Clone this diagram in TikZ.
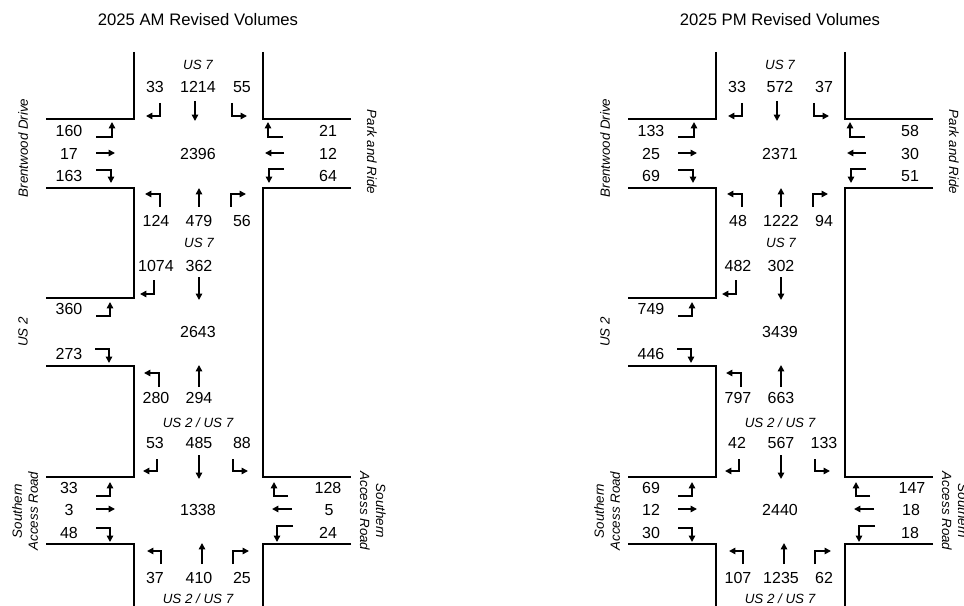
\documentclass[tikz,border=0pt]{standalone}
\usepackage{fontspec}
\setmainfont{Liberation Sans}
\usetikzlibrary{arrows.meta}
\tikzset{
  road/.style={line width=1.6pt, line join=miter},
  arr/.style={line width=1.6pt, line join=miter, -{Triangle[length=4.8pt,width=4.8pt]}},
  num/.style={inner sep=0pt, font=\fontsize{12}{14}\selectfont},
  ttl/.style={inner sep=0pt, font=\fontsize{12.5}{15}\selectfont},
  lbl/.style={inner sep=0pt, font=\fontsize{10}{12}\selectfont\itshape, align=center},
}
\newcommand\roadnet{%
  % left road edge
  \draw[road] (134,52) -- (134,119) -- (46,119);
  \draw[road] (46,188) -- (134,188) -- (134,298) -- (46,298);
  \draw[road] (46,366) -- (134,366) -- (134,477) -- (46,477);
  \draw[road] (46,544) -- (134,544) -- (134,607);
  % right road edge
  \draw[road] (263,52) -- (263,119) -- (351,119);
  \draw[road] (351,188) -- (263,188) -- (263,477) -- (351,477);
  \draw[road] (351,544) -- (263,544) -- (263,607);
  % top intersection
  \draw[arr] (160,103) -- (160,116) -- (146,116);
  \draw[arr] (195,101) -- (195,121);
  \draw[arr] (232,103) -- (232,116) -- (247,116);
  \draw[arr] (96,137) -- (112,137) -- (112,122);
  \draw[arr] (96,153) -- (115,153);
  \draw[arr] (96,170) -- (111,170) -- (111,183);
  \draw[arr] (283,137) -- (268,137) -- (268,122);
  \draw[arr] (284,153) -- (265,153);
  \draw[arr] (284,169) -- (269,169) -- (269,183);
  \draw[arr] (160,207) -- (160,194) -- (145,194);
  \draw[arr] (199,207) -- (199,188);
  \draw[arr] (231,207) -- (231,194) -- (246,194);
  % middle intersection
  \draw[arr] (154,280) -- (154,294) -- (140,294);
  \draw[arr] (199,277) -- (199,300);
  \draw[arr] (96,316) -- (110,316) -- (110,302);
  \draw[arr] (95,349) -- (109,349) -- (109,363);
  \draw[arr] (159,387) -- (159,373) -- (144,373);
  \draw[arr] (199,387) -- (199,365);
  % bottom intersection
  \draw[arr] (157,459) -- (157,471) -- (143,471);
  \draw[arr] (199,455) -- (199,479);
  \draw[arr] (233,459) -- (233,471) -- (248,471);
  \draw[arr] (96,496) -- (110,496) -- (110,482);
  \draw[arr] (96,509) -- (115,509);
  \draw[arr] (96,528) -- (110,528) -- (110,542);
  \draw[arr] (288,496) -- (274,496) -- (274,482);
  \draw[arr] (292,509) -- (272,509);
  \draw[arr] (293,526) -- (277,526) -- (277,542);
  \draw[arr] (161,564) -- (161,551) -- (147,551);
  \draw[arr] (202,564) -- (202,543);
  \draw[arr] (233,564) -- (233,551) -- (249,551);
}
\begin{document}
\begin{tikzpicture}[x=0.75pt,y=-0.75pt]
\useasboundingbox (0,0) rectangle (964,606);
% ---------------- AM ----------------
\begin{scope}
  \roadnet
  \node[ttl] (amtitle) at (198,20) {2025 AM Revised Volumes};
  \node[lbl] (amus7a) at (198,65) {US 7};
  \node[lbl] (amus7b) at (199,243) {US 7};
  \node[lbl] (amus27a) at (198,423) {US 2 / US 7};
  \node[lbl] (amus27b) at (198,599) {US 2 / US 7};
  \node[lbl, rotate=90] (ambrent) at (23,148) {Brentwood Drive};
  \node[lbl, rotate=-90] (ampark) at (372,152) {Park and Ride};
  \node[lbl, rotate=90] (amus2) at (23,332) {US 2};
  \node[lbl, rotate=90] (amsarw) at (25,511) {Southern\\Access Road};
  \node[lbl, rotate=-90] (amsare) at (373,511) {Southern\\Access Road};
  % top
  \node[num] (a1) at (155,87) {33};
  \node[num] (a2) at (198,87) {1214};
  \node[num] (a3) at (242,87) {55};
  \node[num] (a4) at (69,131) {160};
  \node[num] (a5) at (69,154) {17};
  \node[num] (a6) at (69,176) {163};
  \node[num] (a7) at (328,131) {21};
  \node[num] (a8) at (328,154) {12};
  \node[num] (a9) at (328,176) {64};
  \node[num] (a10) at (198,154) {2396};
  \node[num] (a11) at (156,221) {124};
  \node[num] (a12) at (199,221) {479};
  \node[num] (a13) at (242,221) {56};
  % middle
  \node[num] (a14) at (156,266) {1074};
  \node[num] (a15) at (199,266) {362};
  \node[num] (a16) at (69,309) {360};
  \node[num] (a17) at (69,354) {273};
  \node[num] (a18) at (198,332) {2643};
  \node[num] (a19) at (156,398) {280};
  \node[num] (a20) at (199,398) {294};
  % bottom
  \node[num] (a21) at (155,443) {53};
  \node[num] (a22) at (199,443) {485};
  \node[num] (a23) at (242,443) {88};
  \node[num] (a24) at (69,488) {33};
  \node[num] (a25) at (69,510) {3};
  \node[num] (a26) at (69,533) {48};
  \node[num] (a27) at (328,488) {128};
  \node[num] (a28) at (329,510) {5};
  \node[num] (a29) at (328,533) {24};
  \node[num] (a30) at (198,510) {1338};
  \node[num] (a31) at (155,578) {37};
  \node[num] (a32) at (199,578) {410};
  \node[num] (a33) at (242,578) {25};
\end{scope}
% ---------------- PM ----------------
\begin{scope}[shift={(582,0)}]
  \roadnet
  \node[ttl] (pmtitle) at (198,20) {2025 PM Revised Volumes};
  \node[lbl] (pmus7a) at (198,65) {US 7};
  \node[lbl] (pmus7b) at (199,243) {US 7};
  \node[lbl] (pmus27a) at (198,423) {US 2 / US 7};
  \node[lbl] (pmus27b) at (198,599) {US 2 / US 7};
  \node[lbl, rotate=90] (pmbrent) at (23,148) {Brentwood Drive};
  \node[lbl, rotate=-90] (pmpark) at (372,152) {Park and Ride};
  \node[lbl, rotate=90] (pmus2) at (23,332) {US 2};
  \node[lbl, rotate=90] (pmsarw) at (25,511) {Southern\\Access Road};
  \node[lbl, rotate=-90] (pmsare) at (373,511) {Southern\\Access Road};
  % top
  \node[num] (p1) at (155,87) {33};
  \node[num] (p2) at (198,87) {572};
  \node[num] (p3) at (242,87) {37};
  \node[num] (p4) at (69,131) {133};
  \node[num] (p5) at (69,154) {25};
  \node[num] (p6) at (69,176) {69};
  \node[num] (p7) at (328,131) {58};
  \node[num] (p8) at (328,154) {30};
  \node[num] (p9) at (328,176) {51};
  \node[num] (p10) at (198,154) {2371};
  \node[num] (p11) at (156,221) {48};
  \node[num] (p12) at (199,221) {1222};
  \node[num] (p13) at (242,221) {94};
  % middle
  \node[num] (p14) at (156,266) {482};
  \node[num] (p15) at (199,266) {302};
  \node[num] (p16) at (69,309) {749};
  \node[num] (p17) at (69,354) {446};
  \node[num] (p18) at (198,332) {3439};
  \node[num] (p19) at (156,398) {797};
  \node[num] (p20) at (199,398) {663};
  % bottom
  \node[num] (p21) at (155,443) {42};
  \node[num] (p22) at (199,443) {567};
  \node[num] (p23) at (242,443) {133};
  \node[num] (p24) at (69,488) {69};
  \node[num] (p25) at (69,510) {12};
  \node[num] (p26) at (69,533) {30};
  \node[num] (p27) at (330,488) {147};
  \node[num] (p28) at (329,510) {18};
  \node[num] (p29) at (328,533) {18};
  \node[num] (p30) at (198,510) {2440};
  \node[num] (p31) at (156,578) {107};
  \node[num] (p32) at (199,578) {1235};
  \node[num] (p33) at (242,578) {62};
\end{scope}
\end{tikzpicture}
\end{document}
